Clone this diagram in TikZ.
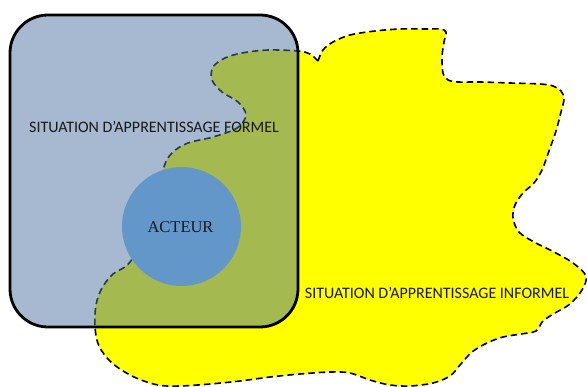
\documentclass[tikz,border=0pt]{standalone}
\usepackage{fontspec}
\setmainfont{Carlito}
\newfontfamily\serifacteur{Liberation Serif}
\definecolor{blobyellow}{RGB}{255,255,0}
\definecolor{rectblue}{RGB}{77,116,163}
\definecolor{actorblue}{RGB}{99,151,201}
\definecolor{textdark}{RGB}{25,25,25}
\tikzset{
  blob/.style={fill=blobyellow, draw=black, line width=1.6pt, dash pattern=on 6.5pt off 4pt, line join=round},
  formalbox/.style={rectangle, fill=rectblue, fill opacity=0.5, draw=black, draw opacity=1, line width=2.8pt, rounded corners=38pt, inner sep=0pt},
  actor/.style={circle, fill=actorblue, minimum size=119pt, inner sep=0pt},
  label/.style={font=\fontsize{16}{18}\selectfont, text=textdark, inner sep=0pt, anchor=base},
}
\begin{document}
\begin{tikzpicture}[x=1pt,y=-1pt]
\useasboundingbox (0,0) rectangle (587,387);
% informal learning blob
\draw[blob] plot[smooth, tension=0.55] coordinates {
 (318,61) (323,50) (333,42) (350,35) (375,31) (400,29) (425,29) (440,29) (446,32)
 (444,42) (442,57) (443,73) (448,80) (458,82) (480,82) (510,83) (540,84) (553,86)
 (561,91) (564,99) (561,112) (556,131) (549,151) (542,170) (534,183) (523,193)
 (515,205) (513,218) (519,232) (534,242) (554,252) (573,263) (586,276) (582,290)
 (570,304) (555,313) (543,321) (536,331) (521,334) (503,337) (487,343) (472,352)
 (460,365) (450,376) (433,383) (410,386) (390,385) (370,380) (350,373) (330,372)
 (300,374) (270,377) (240,381) (210,384) (180,386) (158,385) (134,377) (112,363)
 (99,346) (95,327) (96,305) (102,288) (113,274) (130,262) (150,225) (163,170)
 (172,153) (188,143) (213,137) (237,128) (246,115) (238,102) (222,92) (212,80)
 (213,67) (225,58) (242,53) (268,50) (298,51) (310,54) (318,61)} -- cycle;
% formal learning box
\node[formalbox, minimum width=288pt, minimum height=312pt] (formel) at (154,171) {};
% actor
\node[actor] (acteur) at (181.5,226.5) {};
\node[label, font=\serifacteur\fontsize{16.5}{18}\selectfont] (acteurtxt) at (180.5,233) {ACTEUR};
% labels
\node[label] (formeltxt) at (154,133) {SITUATION D’APPRENTISSAGE FORMEL};
\node[label] (informeltxt) at (437,299) {SITUATION D’APPRENTISSAGE INFORMEL};
\end{tikzpicture}
\end{document}
